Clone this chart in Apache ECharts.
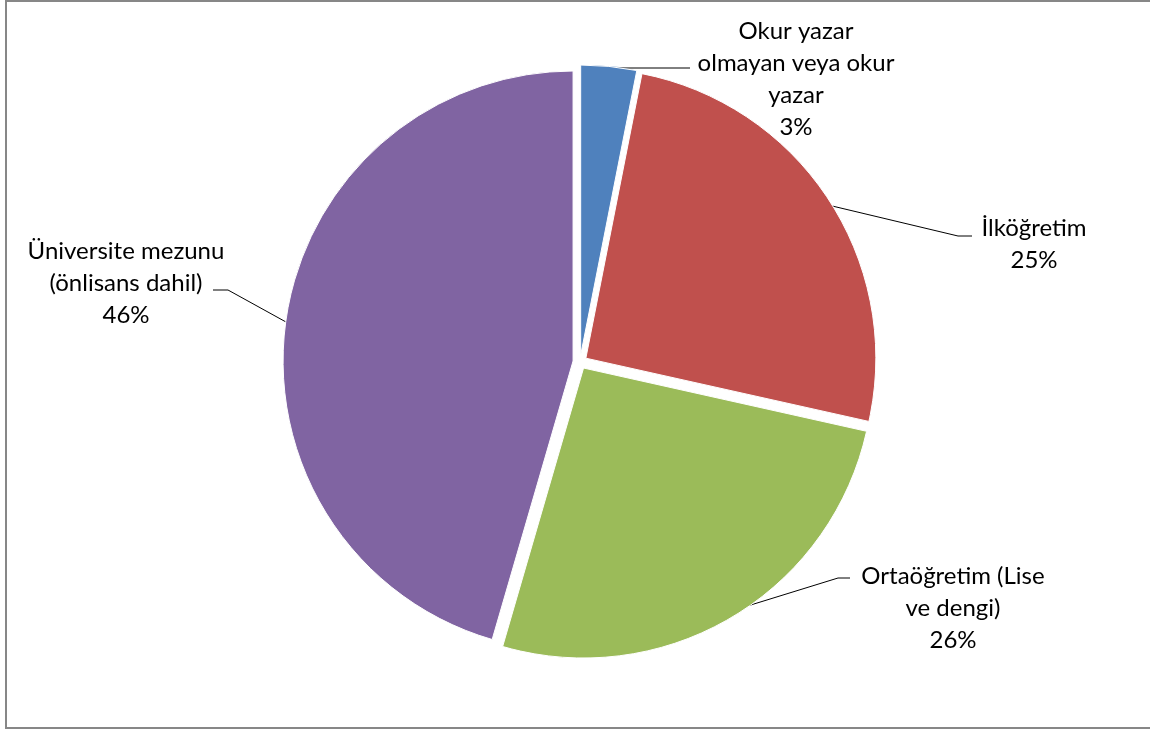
<!DOCTYPE html>
<html>
<head>
<meta charset="utf-8">
<script src="https://cdn.jsdelivr.net/npm/echarts@6/dist/echarts.min.js"></script>
<style>
html,body{margin:0;padding:0;background:#fff;}
#chart{width:1150px;height:729px;}
</style>
</head>
<body>
<div id="chart"></div>
<script>
const categories = [
  'Okur yazar\nolmayan veya okur\nyazar',
  'İlköğretim',
  'Ortaöğretim (Lise\nve dengi)',
  'Üniversite mezunu\n(önlisans dahil)'
];
const shares = [3.1, 25.4, 26.0, 45.5];
const colors = ['#4F81BD', '#C0504D', '#9BBB59', '#8064A2'];

// label block centres and leader lines (layout only)
const labelPos = [
  {x: 796, y: 79, line: [[611, 68], [650, 68], [690, 68]]},
  {x: 1034, y: 244, line: [[828, 205], [958, 236], [972, 236]]},
  {x: 953, y: 608, line: [[728, 612], [838, 578], [850, 578]]},
  {x: 126, y: 283, line: [[286, 322], [228, 290], [213, 290]]}
];

const OFFSET = 7;
const total = shares.reduce((a, b) => a + b, 0);
const sliceShift = [];
(function () {
  let cum = 0;
  shares.forEach(v => {
    const mid = (cum + v / 2) / total * Math.PI * 2;
    sliceShift.push([OFFSET * Math.sin(mid), -OFFSET * Math.cos(mid)]);
    cum += v;
  });
})();

const chart = echarts.init(document.getElementById('chart'));
chart.setOption({
  animation: false,
  backgroundColor: '#fff',
  graphic: [{
    type: 'rect',
    shape: {x: 6, y: 1, width: 1148, height: 727},
    style: {fill: 'none', stroke: '#878787', lineWidth: 2},
    silent: true
  }],
  series: [{
    type: 'pie',
    center: [580, 362],
    radius: 290,
    startAngle: 90,
    clockwise: true,
    selectedMode: 'multiple',
    selectedOffset: OFFSET,
    avoidLabelOverlap: false,
    itemStyle: {borderColor: '#fff', borderWidth: 1},
    emphasis: {disabled: true},
    label: {
      show: true,
      position: 'outside',
      color: '#000',
      fontFamily: 'Lato, "Open Sans", sans-serif',
      fontSize: 24,
      lineHeight: 32,
      formatter: p => p.name + '\n' + Math.round(p.percent) + '%'
    },
    labelLine: {show: true, showAbove: true, lineStyle: {color: '#000', width: 1}},
    labelLayout: function (params) {
      const i = params.dataIndex;
      const lp = labelPos[i];
      const s = sliceShift[i];
      const r = params.labelRect;
      let anchor = r.x + r.width / 2;
      if (params.align === 'left') anchor = r.x;
      else if (params.align === 'right') anchor = r.x + r.width;
      return {
        align: 'center',
        dx: lp.x - anchor - s[0],
        dy: lp.y - (r.y + r.height / 2) - s[1],
        labelLinePoints: lp.line.map(p => [p[0] - s[0], p[1] - s[1]])
      };
    },
    data: categories.map((c, i) => ({
      name: c, value: shares[i], selected: true,
      itemStyle: {color: colors[i]}
    }))
  }]
});
</script>
</body>
</html>
